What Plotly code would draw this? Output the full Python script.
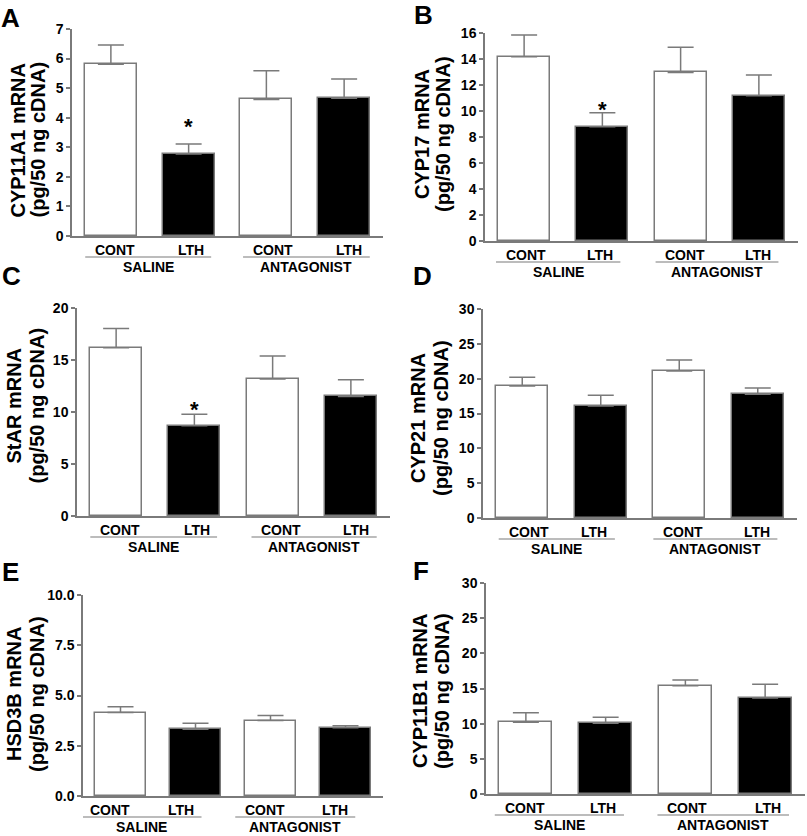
import plotly.graph_objects as go

# ---------------- data ----------------
categories = ["CONT", "LTH", "CONT", "LTH"]
groups = ["SALINE", "ANTAGONIST"]
panel_letters = ["A", "B", "C", "D", "E", "F"]
gene_titles = ["CYP11A1 mRNA", "CYP17 mRNA", "StAR mRNA", "CYP21 mRNA", "HSD3B mRNA", "CYP11B1 mRNA"]
unit_title = "(pg/50 ng cDNA)"

cyp11a1_mean = [5.81, 2.77, 4.62, 4.66]
cyp11a1_sem = [0.65, 0.34, 0.97, 0.65]
cyp17_mean = [14.18, 8.79, 12.97, 11.18]
cyp17_sem = [1.67, 1.08, 1.93, 1.59]
star_mean = [16.18, 8.68, 13.17, 11.50]
star_sem = [1.86, 1.10, 2.21, 1.60]
cyp21_mean = [18.95, 16.08, 21.10, 17.75]
cyp21_sem = [1.24, 1.53, 1.58, 0.91]
hsd3b_mean = [4.15, 3.32, 3.75, 3.40]
hsd3b_sem = [0.29, 0.30, 0.25, 0.10]
cyp11b1_mean = [10.19, 10.05, 15.40, 13.65]
cyp11b1_sem = [1.37, 0.85, 0.81, 1.95]

y_max = [7, 16, 20, 30, 10, 30]
y_dtick = [1, 2, 5, 5, 2.5, 5]
y_format = ["d", "d", "d", "d", ".1f", "d"]
asterisks = [(0, 1, 3.86), (1, 1, 10.46), (2, 1, 10.67)]

means = [cyp11a1_mean, cyp17_mean, star_mean, cyp21_mean, hsd3b_mean, cyp11b1_mean]
sems = [cyp11a1_sem, cyp17_sem, star_sem, cyp21_sem, hsd3b_sem, cyp11b1_sem]

W, H = 807, 836
boxes = [(72, 383, 29, 236), (485, 798, 33, 241),
         (77, 390, 308, 516), (483, 797, 309, 518),
         (83, 383, 595, 796), (486, 805, 583, 794)]
underlines = [((-0.33, 1.29), (1.70, 3.33)), ((-0.36, 1.23), (1.68, 3.25)),
              ((-0.33, 1.29), (1.73, 3.33)), ((-0.30, 1.18), (1.67, 3.25)),
              ((-0.53, 1.08), (1.53, 3.13)), ((-0.39, 1.23), (1.65, 3.30))]
title_pos = [(17.5, 37.5, 140), (422, 443, 134), (13.5, 36.5, 406),
             (418, 441, 418), (14, 37, 694), (420, 442, 691)]
letter_pos = [(10.5, 17.5), (423, 15), (11, 276), (422.5, 276), (10.5, 571.5), (421.5, 571)]

FONT = "Liberation Sans, Arial, sans-serif"
GRAY = "#7a7a7a"


def px_x(p):
    return p / W


def px_y(p):
    return 1 - p / H


fig = go.Figure()
annotations = []
shapes = []
xs = list(range(len(categories)))
bar_colors = ["white", "black", "white", "black"]

for i in range(6):
    k = "" if i == 0 else str(i + 1)
    xl, xr, yt, yb = boxes[i]
    fig.add_trace(go.Bar(
        x=xs, y=means[i], width=0.667,
        marker=dict(color=bar_colors, line=dict(color=GRAY, width=1.5)),
        error_y=dict(type="data", array=sems[i], arrayminus=[0] * 4, symmetric=False,
                     color=GRAY, thickness=1.5, width=13),
        xaxis="x" + k, yaxis="y" + k, showlegend=False, hoverinfo="skip"))

    fig.update_layout(**{
        "xaxis" + k: dict(domain=[px_x(xl), px_x(xr)], anchor="y" + k, range=[-0.5, 3.5],
                          showline=True, linecolor=GRAY, linewidth=1.5, showgrid=False,
                          zeroline=False, showticklabels=False, ticks="", automargin=False),
        "yaxis" + k: dict(domain=[px_y(yb), px_y(yt)], anchor="x" + k, range=[0, y_max[i]],
                          dtick=y_dtick[i], tick0=0, tickformat=y_format[i],
                          showline=True, linecolor=GRAY, linewidth=1.5, showgrid=False,
                          zeroline=False, ticks="outside", ticklen=4, tickwidth=1.5,
                          tickcolor=GRAY, automargin=False,
                          tickfont=dict(family=FONT, size=14, color="black", weight="bold")),
    })

    (s0, s1), (a0, a1) = underlines[i]
    for (u0, u1), g, (c_lab, l_lab) in [((s0, s1), groups[0], categories[0:2]),
                                         ((a0, a1), groups[1], categories[2:4])]:
        annotations.append(dict(x=u0 + 0.1, y=px_y(yb + 14), xref="x" + k, yref="paper",
                                text=c_lab, showarrow=False, xanchor="left", yanchor="middle",
                                font=dict(family=FONT, size=14, color="black", weight="bold")))
        annotations.append(dict(x=u1 - 0.07, y=px_y(yb + 14), xref="x" + k, yref="paper",
                                text=l_lab, showarrow=False, xanchor="right", yanchor="middle",
                                font=dict(family=FONT, size=14, color="black", weight="bold")))
        shapes.append(dict(type="line", xref="x" + k, yref="paper", x0=u0, x1=u1,
                           y0=px_y(yb + 21), y1=px_y(yb + 21),
                           line=dict(color=GRAY, width=1.2)))
        annotations.append(dict(x=(u0 + u1) / 2, y=px_y(yb + 31), xref="x" + k, yref="paper",
                                text=g, showarrow=False, xanchor="center", yanchor="middle",
                                font=dict(family=FONT, size=14, color="black", weight="bold")))

    tx1, tx2, ty = title_pos[i]
    annotations.append(dict(x=px_x(tx1), y=px_y(ty), xref="paper", yref="paper",
                            text=gene_titles[i], textangle=-90, showarrow=False,
                            xanchor="center", yanchor="middle",
                            font=dict(family=FONT, size=20, color="black", weight="bold")))
    annotations.append(dict(x=px_x(tx2), y=px_y(ty), xref="paper", yref="paper",
                            text=unit_title, textangle=-90, showarrow=False,
                            xanchor="center", yanchor="middle",
                            font=dict(family=FONT, size=20, color="black", weight="bold")))

    lx, ly = letter_pos[i]
    annotations.append(dict(x=px_x(lx), y=px_y(ly), xref="paper", yref="paper",
                            text=panel_letters[i], showarrow=False,
                            xanchor="center", yanchor="middle",
                            font=dict(family=FONT, size=26, color="black", weight="bold")))

for (pi, bi, yv) in asterisks:
    k = "" if pi == 0 else str(pi + 1)
    annotations.append(dict(x=xs[bi], y=yv, xref="x" + k, yref="y" + k, text="*",
                            showarrow=False, xanchor="center", yanchor="middle", yshift=-4.5,
                            font=dict(family=FONT, size=22, color="black", weight="bold")))

fig.update_layout(width=W, height=H, margin=dict(l=0, r=0, t=0, b=0, autoexpand=False),
                  paper_bgcolor="white", plot_bgcolor="white",
                  annotations=annotations, shapes=shapes, bargap=0)

fig.write_html("out.html", config={"displayModeBar": False},
               post_script="document.body.style.margin='0';document.body.style.overflow='hidden';")
